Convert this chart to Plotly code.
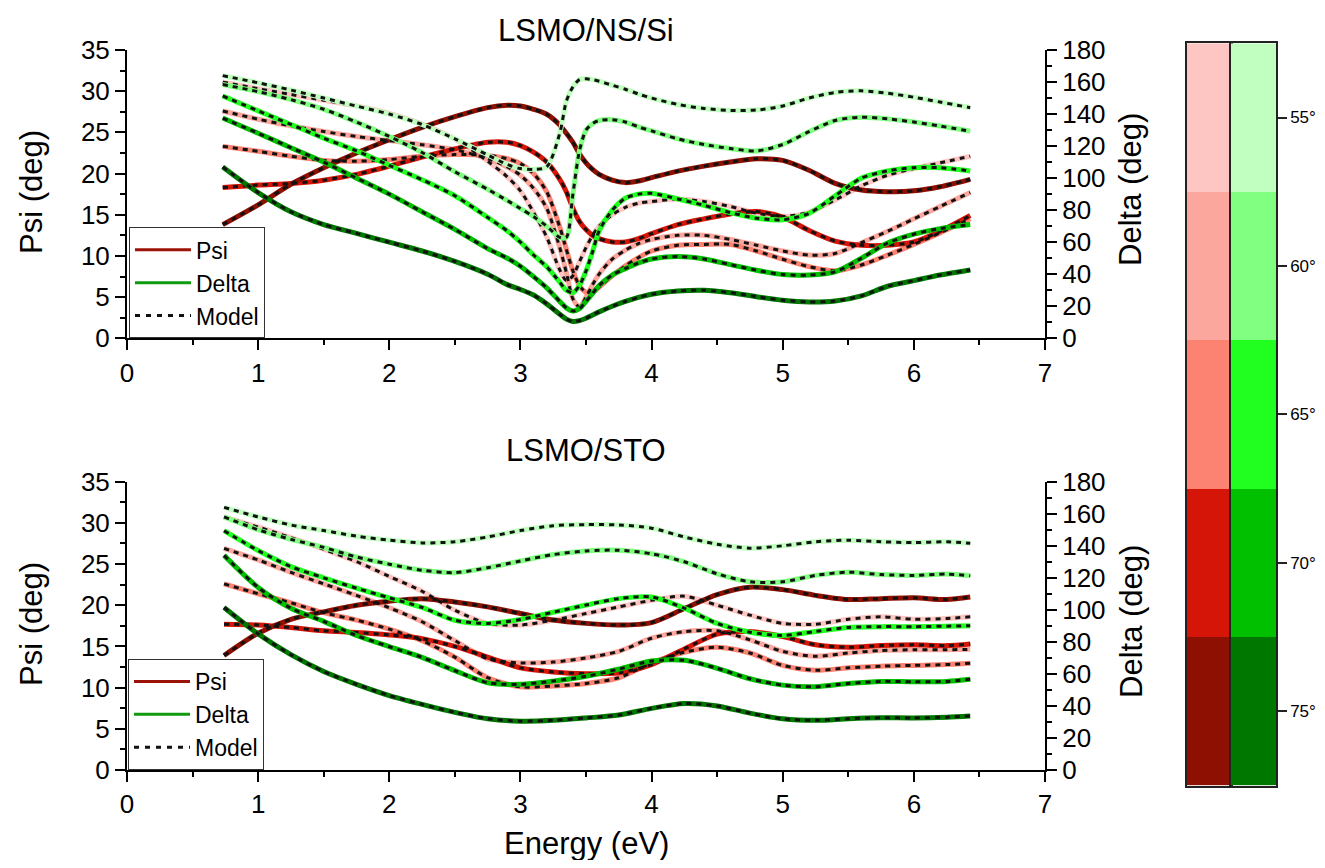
import plotly.graph_objects as go

# ---------------- data ----------------
angles = [55, 60, 65, 70, 75]
angle_labels = ["55°", "60°", "65°", "70°", "75°"]
psi_colors = ["#fdc6c2", "#fba79e", "#fc8272", "#d41508", "#8e1002"]
delta_colors = ["#c0ffc0", "#80ff80", "#20ff20", "#00c000", "#007800"]

# LSMO/NS/Si
energy_top = [0.73, 1.0, 1.25, 1.5, 1.75, 2.0, 2.25, 2.5, 2.75, 2.9, 3.0, 3.1, 3.2, 3.3, 3.35, 3.4,
              3.45, 3.5, 3.55, 3.6, 3.7, 3.8, 3.9, 4.0, 4.2, 4.4, 4.6, 4.8, 5.0, 5.2, 5.4, 5.6,
              5.8, 6.0, 6.2, 6.43]
psi_top_55 = [31.1, 30.3, 29.6, 28.9, 28.2, 27.3, 26.0, 24.2, 21.5, 19.6, 17.9, 15.3, 12.3, 8.3, 7.0, 7.6,
              9.3, 11.0, 12.5, 13.6, 15.0, 15.9, 16.4, 16.6, 16.9, 16.6, 16.0, 15.2, 14.8, 15.3, 16.8, 18.5,
              19.8, 20.6, 21.3, 22.1]
psi_top_60 = [27.6, 26.6, 25.8, 25.1, 24.5, 24.0, 23.5, 22.9, 21.8, 20.8, 19.8, 18.2, 15.8, 11.0, 8.0, 4.8,
              3.8, 5.0, 6.5, 7.8, 9.6, 10.7, 11.5, 12.0, 12.5, 12.5, 12.0, 11.3, 10.6, 10.1, 10.3, 11.6,
              13.0, 14.5, 16.0, 17.7]
psi_top_65 = [23.3, 22.7, 22.1, 21.6, 21.5, 21.7, 22.1, 22.3, 22.2, 21.8, 21.2, 20.0, 17.8, 13.5, 10.8, 8.2,
              6.4, 5.6, 5.6, 6.2, 7.6, 8.8, 9.8, 10.6, 11.3, 11.4, 11.4, 10.6, 9.6, 8.7, 8.2, 8.9,
              10.1, 11.4, 12.8, 14.5]
psi_top_70 = [18.3, 18.6, 18.8, 19.2, 19.9, 20.9, 22.0, 23.0, 23.8, 23.8, 23.4, 22.6, 21.4, 19.3, 17.8, 15.8,
              14.2, 13.2, 12.5, 12.1, 11.7, 11.7, 12.1, 12.7, 13.8, 14.5, 15.1, 15.4, 14.7, 13.1, 11.8, 11.3,
              11.3, 11.7, 13.0, 14.9]
psi_top_75 = [13.8, 16.2, 18.7, 20.7, 22.5, 24.1, 25.6, 26.9, 28.0, 28.3, 28.2, 27.8, 27.2, 25.9, 24.9, 23.8,
              22.4, 21.3, 20.5, 19.9, 19.2, 18.9, 19.1, 19.5, 20.3, 20.9, 21.4, 21.8, 21.6, 20.4, 18.8, 18.0,
              17.8, 17.9, 18.4, 19.3]
delta_top_55 = [164, 159.5, 155, 150, 145, 140, 133.5, 124.5, 114.5, 108.5, 106, 105.5, 107, 128, 148, 157,
                161.5, 162, 161.5, 160.5, 158, 155.5, 152.5, 150, 146, 143.5, 142.3, 142.5, 145, 150, 153.5, 154.5,
                153, 150.5, 147.5, 144]
delta_top_60 = [158.5, 154, 149, 143, 135, 126, 116, 104, 93, 86, 81, 76, 70, 63, 63, 90,
                117, 130, 134, 136, 136.5, 135, 132, 129.5, 124.5, 121, 118.5, 117, 121, 129, 136, 138,
                137, 135, 132.5, 129.3]
delta_top_65 = [151.3, 142, 133.5, 125, 117, 108, 99, 89, 75.5, 67, 60, 52, 44.7, 35, 30, 28.5,
                33, 42, 54, 67, 80, 87.5, 90, 90.5, 87, 83, 78.5, 75, 74, 78, 89, 100,
                104.5, 106.5, 106.5, 104.5]
delta_top_70 = [137.5, 128, 119, 110, 100, 90, 79, 68, 56, 50, 45, 38.5, 31.5, 23, 19, 17,
                18.5, 23, 28, 33, 39.5, 43.5, 47, 49.5, 51, 49.5, 46, 42.5, 39.8, 39.5, 41.5, 50,
                59.5, 65, 68.5, 71]
delta_top_75 = [107, 91, 79, 71, 65.5, 60, 54.5, 48, 40, 33.5, 30.5, 27, 21.5, 15, 12, 10.5,
                11, 12.5, 14.5, 16.5, 20, 23, 25.5, 27.5, 29.5, 30, 28.5, 26, 23.8, 22.7, 23.3, 26.5,
                32.5, 36, 39.5, 42.7]

# LSMO/STO
energy_bot = [0.74, 1.0, 1.25, 1.5, 1.75, 2.0, 2.25, 2.5, 2.75, 3.0, 3.25, 3.5, 3.75, 4.0, 4.25, 4.5,
              4.75, 5.0, 5.25, 5.5, 5.75, 6.0, 6.25, 6.43]
psi_bot_55 = [30.7, 29.5, 28.2, 26.8, 25.3, 23.5, 21.7, 19.4, 17.8, 17.6, 18.2, 19.0, 19.8, 20.6, 21.1, 20.0,
              18.8, 17.8, 17.7, 18.3, 18.6, 18.3, 18.4, 18.6]
psi_bot_60 = [26.9, 25.5, 24.0, 22.6, 21.2, 19.7, 18.0, 15.7, 13.5, 13.0, 13.1, 13.6, 14.4, 16.0, 16.8, 16.9,
              15.8, 14.4, 13.8, 14.2, 14.5, 14.6, 14.6, 14.65]
psi_bot_65 = [22.6, 21.4, 20.3, 19.1, 18.2, 17.1, 15.7, 13.7, 11.2, 10.1, 10.2, 10.5, 11.2, 13.0, 14.3, 14.9,
              14.2, 12.7, 12.1, 12.4, 12.6, 12.7, 12.8, 12.95]
psi_bot_70 = [17.7, 17.6, 17.3, 16.9, 16.7, 16.4, 15.95, 15.0, 13.7, 12.4, 11.9, 11.7, 11.8, 12.8, 14.7, 16.5,
              16.8, 16.2, 15.2, 14.9, 15.1, 15.2, 15.1, 15.3]
psi_bot_75 = [13.9, 16.6, 18.3, 19.2, 20.0, 20.5, 20.8, 20.4, 19.8, 19.0, 18.2, 17.8, 17.6, 17.9, 19.6, 21.3,
              22.2, 21.9, 21.2, 20.7, 20.8, 20.9, 20.7, 21.0]
delta_bot_55 = [164, 158, 153, 149.5, 146, 143.5, 141.8, 142.5, 145.5, 149.5, 152.5, 153.2, 153, 151, 145.5, 141,
                138.5, 140, 142.5, 143.5, 142.5, 142, 142.5, 141.5]
delta_bot_60 = [158, 150, 144, 139, 133, 128.5, 124.7, 123.2, 126.3, 130.5, 134.5, 136.8, 137.2, 135, 130, 122.5,
                117.5, 117.5, 121.5, 123.5, 122, 121.5, 122.3, 121.3]
delta_bot_65 = [149.4, 137, 127, 120, 113.5, 107.5, 101.5, 93.5, 91.5, 94, 98.5, 103, 107, 108, 101, 91.5,
                86, 84, 86.5, 89, 89.5, 89.5, 89.8, 90.1]
delta_bot_70 = [134, 114, 101, 92.8, 84, 77, 70.3, 62, 54.5, 53.5, 55.5, 58.5, 63, 68, 68.5, 63.5,
                57, 53, 52, 54, 55.3, 55.1, 55.3, 56.6]
delta_bot_75 = [101.5, 85, 72, 61.5, 53.5, 46.5, 41, 36, 32, 30.5, 31, 32.5, 34.3, 38.5, 41.5, 40,
                35.5, 32, 31, 32, 32.6, 32.5, 33, 33.7]

panel_titles = ["LSMO/NS/Si", "LSMO/STO"]
legend_names = ["Psi", "Delta", "Model"]
legend_colors = ["#9b1208", "#109a10", "#111111"]

psi_top = [psi_top_55, psi_top_60, psi_top_65, psi_top_70, psi_top_75]
delta_top = [delta_top_55, delta_top_60, delta_top_65, delta_top_70, delta_top_75]
psi_bot = [psi_bot_55, psi_bot_60, psi_bot_65, psi_bot_70, psi_bot_75]
delta_bot = [delta_bot_55, delta_bot_60, delta_bot_65, delta_bot_70, delta_bot_75]

# ---------------- layout helpers ----------------
OFF = 8  # page body margin
W, H = 1325 - 2 * OFF, 868 - 2 * OFF
FONT = "Liberation Sans, Arial, sans-serif"


def px(x):
    return (x - OFF) / W


def py(y):
    return (H - (y - OFF)) / H


fig = go.Figure()

DATA_W = 5
MODEL = dict(color="#111111", width=3, dash="5px,5px")


def add_panel(energy, psis, deltas, xa, ya_psi, ya_delta):
    # measured curves
    for i in range(5):
        fig.add_trace(go.Scatter(x=energy, y=psis[i], mode="lines", xaxis=xa, yaxis=ya_psi,
                                 line=dict(color=psi_colors[i], width=DATA_W, shape="spline", smoothing=0.8),
                                 showlegend=False, hoverinfo="skip"))
        fig.add_trace(go.Scatter(x=energy, y=deltas[i], mode="lines", xaxis=xa, yaxis=ya_delta,
                                 line=dict(color=delta_colors[i], width=DATA_W, shape="spline", smoothing=0.8),
                                 showlegend=False, hoverinfo="skip"))
    # model curves
    for i in range(5):
        fig.add_trace(go.Scatter(x=energy, y=psis[i], mode="lines", xaxis=xa, yaxis=ya_psi,
                                 line=dict(shape="spline", smoothing=0.8, **MODEL),
                                 showlegend=False, hoverinfo="skip"))
        fig.add_trace(go.Scatter(x=energy, y=deltas[i], mode="lines", xaxis=xa, yaxis=ya_delta,
                                 line=dict(shape="spline", smoothing=0.8, **MODEL),
                                 showlegend=False, hoverinfo="skip"))


add_panel(energy_top, psi_top, delta_top, "x", "y", "y2")
add_panel(energy_bot, psi_bot, delta_bot, "x2", "y3", "y4")

# legend entries
for leg, xa, ya in [("legend", "x", "y"), ("legend2", "x2", "y3")]:
    for name, col in zip(legend_names, legend_colors):
        ln = dict(color=col, width=3)
        if name == "Model":
            ln = dict(color=col, width=3, dash="5px,6px")
        fig.add_trace(go.Scatter(x=[None], y=[None], mode="lines", name=name, line=ln,
                                 xaxis=xa, yaxis=ya, legend=leg, showlegend=True))

# colour bar (angle key)
red_scale = [[k / 4, c] for k, c in enumerate(psi_colors)]
green_scale = [[k / 4, c] for k, c in enumerate(delta_colors)]
fig.add_trace(go.Heatmap(x=[0], y=angles, z=[[k] for k in range(5)], zmin=0, zmax=4,
                         colorscale=red_scale, showscale=False, xaxis="x3", yaxis="y5", hoverinfo="skip"))
fig.add_trace(go.Heatmap(x=[0], y=angles, z=[[k] for k in range(5)], zmin=0, zmax=4,
                         colorscale=green_scale, showscale=False, xaxis="x4", yaxis="y6", hoverinfo="skip"))

xdom = [px(127), px(1045)]
top_dom = [py(338.3), py(50)]
bot_dom = [py(770), py(481.7)]
cb_dom = [py(785.5), py(43.3)]

TICKFONT = dict(family=FONT, size=26, color="black")
common = dict(showline=True, linecolor="black", linewidth=2, ticks="outside", ticklen=10, tickwidth=2,
              tickcolor="black", showgrid=False, zeroline=False, tickfont=TICKFONT, automargin=False)


def xax(anchor):
    return dict(domain=xdom, anchor=anchor, range=[0, 7], dtick=1, tick0=0,
                minor=dict(dtick=0.5, ticks="outside", ticklen=5, tickwidth=2, tickcolor="black"),
                **common)


def psi_ax(dom, anchor):
    return dict(domain=dom, anchor=anchor, range=[0, 35], dtick=5, tick0=0,
                minor=dict(dtick=2.5, ticks="outside", ticklen=5, tickwidth=2, tickcolor="black"),
                **common)


def delta_ax(over, anchor):
    return dict(overlaying=over, side="right", anchor=anchor, range=[0, 180], dtick=20, tick0=0,
                minor=dict(dtick=10, ticks="outside", ticklen=5, tickwidth=2, tickcolor="black"),
                **common)


cb_x = dict(range=[-0.5, 0.5], showline=True, mirror=True, linecolor="#222", linewidth=1.5,
            showticklabels=False, ticks="", showgrid=False, zeroline=False, automargin=False)

LEGFONT = dict(family=FONT, size=23, color="black")
fig.update_layout(
    width=W, height=H,
    margin=dict(l=0, r=0, t=0, b=0, pad=0, autoexpand=False),
    paper_bgcolor="white", plot_bgcolor="white",
    font=dict(family=FONT, color="black"),
    xaxis=xax("y"),
    yaxis=psi_ax(top_dom, "x"),
    yaxis2=delta_ax("y", "x"),
    xaxis2=xax("y3"),
    yaxis3=psi_ax(bot_dom, "x2"),
    yaxis4=delta_ax("y3", "x2"),
    xaxis3=dict(domain=[px(1187), px(1231)], anchor="y5", **cb_x),
    xaxis4=dict(domain=[px(1231), px(1276)], anchor="y6", **cb_x),
    yaxis5=dict(domain=cb_dom, anchor="x3", range=[77.5, 52.5], showline=True, mirror=True,
                linecolor="#222", linewidth=1.5, showticklabels=False, ticks="", showgrid=False,
                zeroline=False, automargin=False),
    yaxis6=dict(domain=cb_dom, anchor="x4", side="right", range=[77.5, 52.5], showline=True, mirror=True,
                linecolor="#222", linewidth=1.5, tickvals=angles, ticktext=angle_labels,
                ticks="outside", ticklen=9, tickwidth=1.5, tickcolor="#222", showgrid=False,
                zeroline=False, automargin=False, tickfont=dict(family=FONT, size=17, color="black")),
    legend=dict(x=px(129), y=py(338.3), xanchor="left", yanchor="bottom", bgcolor="white",
                bordercolor="#333", borderwidth=1, font=LEGFONT, itemwidth=56, tracegroupgap=0),
    legend2=dict(x=px(128), y=py(770), xanchor="left", yanchor="bottom", bgcolor="white",
                 bordercolor="#333", borderwidth=1, font=LEGFONT, itemwidth=56, tracegroupgap=0),
    showlegend=True,
)

TITLE_FONT = dict(family=FONT, size=31, color="black")
annos = [
    dict(text=panel_titles[0], x=px(586), y=py(30), font=dict(family=FONT, size=31, color="black")),
    dict(text=panel_titles[1], x=px(586), y=py(450), font=dict(family=FONT, size=31, color="black")),
    dict(text="Energy (eV)", x=px(586), y=py(843), font=TITLE_FONT),
    dict(text="Psi (deg)", x=px(31), y=py(192), textangle=-90, font=TITLE_FONT),
    dict(text="Psi (deg)", x=px(31), y=py(624), textangle=-90, font=TITLE_FONT),
    dict(text="Delta (deg)", x=px(1131), y=py(190), textangle=-90, font=TITLE_FONT),
    dict(text="Delta (deg)", x=px(1131), y=py(622), textangle=-90, font=TITLE_FONT),
]
for a in annos:
    fig.add_annotation(xref="paper", yref="paper", xanchor="center", yanchor="middle",
                       showarrow=False, **a)

fig.write_html("out.html")
